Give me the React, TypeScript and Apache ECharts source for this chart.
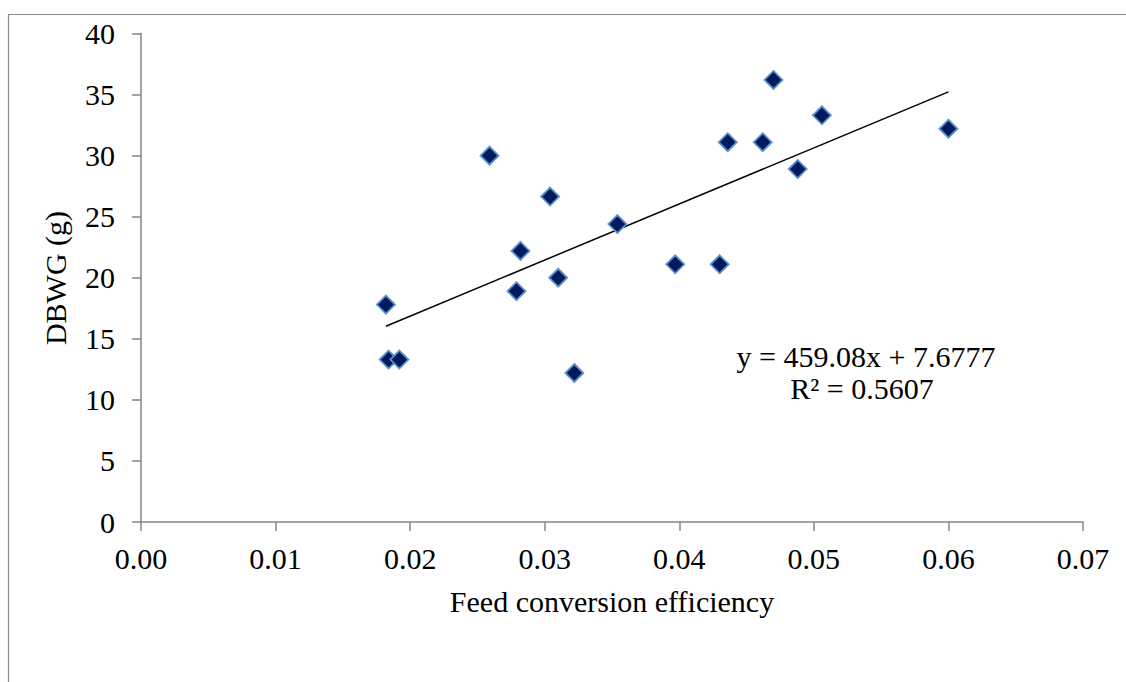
import React, { useEffect, useRef } from "react";
import * as echarts from "echarts";

const feedEfficiency = [
  0.0182, 0.0184, 0.0192, 0.0259, 0.0279, 0.0282, 0.0304, 0.031, 0.0322,
  0.0354, 0.0397, 0.043, 0.0436, 0.0462, 0.047, 0.0488, 0.0506, 0.06,
];
const dbwg = [
  17.8, 13.3, 13.3, 30.0, 18.9, 22.2, 26.65, 20.0, 12.2, 24.4, 21.1, 21.1,
  31.1, 31.1, 36.2, 28.9, 33.3, 32.2,
];
const trendSlope = 459.08;
const trendIntercept = 7.6777;
const trendRange = [0.0182, 0.06];
const equationText = "y = 459.08x + 7.6777";
const r2Text = "R² = 0.5607";
const xTitle = "Feed conversion efficiency";
const yTitle = "DBWG (g)";

const FONT = "'Liberation Serif', 'Times New Roman', serif";

export default function App() {
  const ref = useRef<HTMLDivElement>(null);
  useEffect(() => {
    if (!ref.current) return;
    const chart = echarts.init(ref.current, undefined, { renderer: "svg" });
    const points = feedEfficiency.map((x, i) => [x, dbwg[i]]);
    const trend = trendRange.map((x) => [x, trendSlope * x + trendIntercept]);
    chart.setOption({
      animation: false,
      backgroundColor: "#ffffff",
      grid: { left: 141, right: 43, top: 33.5, bottom: 160 },
      xAxis: {
        type: "value",
        min: 0,
        max: 0.07,
        interval: 0.01,
        axisLine: { show: true, onZero: false, lineStyle: { color: "#868686", width: 1.5 } },
        axisTick: { show: true, length: 9, lineStyle: { color: "#868686", width: 1.5 } },
        splitLine: { show: false },
        axisLabel: {
          margin: 21,
          color: "#000",
          fontFamily: FONT,
          fontSize: 30,
          formatter: (v: number) => v.toFixed(2),
        },
      },
      yAxis: {
        type: "value",
        min: 0,
        max: 40,
        interval: 5,
        axisLine: { show: true, lineStyle: { color: "#868686", width: 1.5 } },
        axisTick: { show: true, length: 9, lineStyle: { color: "#868686", width: 1.5 } },
        splitLine: { show: false },
        axisLabel: { margin: 26, color: "#000", fontFamily: FONT, fontSize: 30 },
      },
      series: [
        {
          type: "line",
          data: trend,
          symbol: "none",
          lineStyle: { color: "#000", width: 1.5 },
          z: 1,
        },
        {
          type: "scatter",
          data: points,
          symbol: "diamond",
          symbolSize: 18,
          itemStyle: { color: "#001a5c", borderColor: "#5b8fcb", borderWidth: 1.8, opacity: 1 },
          z: 2,
        },
      ],
      graphic: [
        {
          type: "rect",
          shape: { x: 8.5, y: 14.5, width: 1200, height: 800 },
          style: { fill: "none", stroke: "#8a8a8a", lineWidth: 1.2 },
          silent: true,
        },
        {
          type: "text",
          x: 866,
          y: 356,
          style: { text: equationText, font: `30px ${FONT}`, fill: "#000", textAlign: "center", textVerticalAlign: "middle" },
        },
        {
          type: "text",
          x: 862,
          y: 388,
          style: { text: r2Text, font: `30px ${FONT}`, fill: "#000", textAlign: "center", textVerticalAlign: "middle" },
        },
        {
          type: "text",
          x: 612,
          y: 601,
          style: { text: xTitle, font: `30px ${FONT}`, fill: "#000", textAlign: "center", textVerticalAlign: "middle" },
        },
        {
          type: "text",
          x: 55,
          y: 278,
          rotation: Math.PI / 2,
          style: { text: yTitle, font: `30px ${FONT}`, fill: "#000", textAlign: "center", textVerticalAlign: "middle" },
        },
      ],
    });
    return () => chart.dispose();
  }, []);
  return (
    <div
      ref={ref}
      style={{ position: "fixed", left: 0, top: 0, width: 1126, height: 682, background: "#fff" }}
    />
  );
}
